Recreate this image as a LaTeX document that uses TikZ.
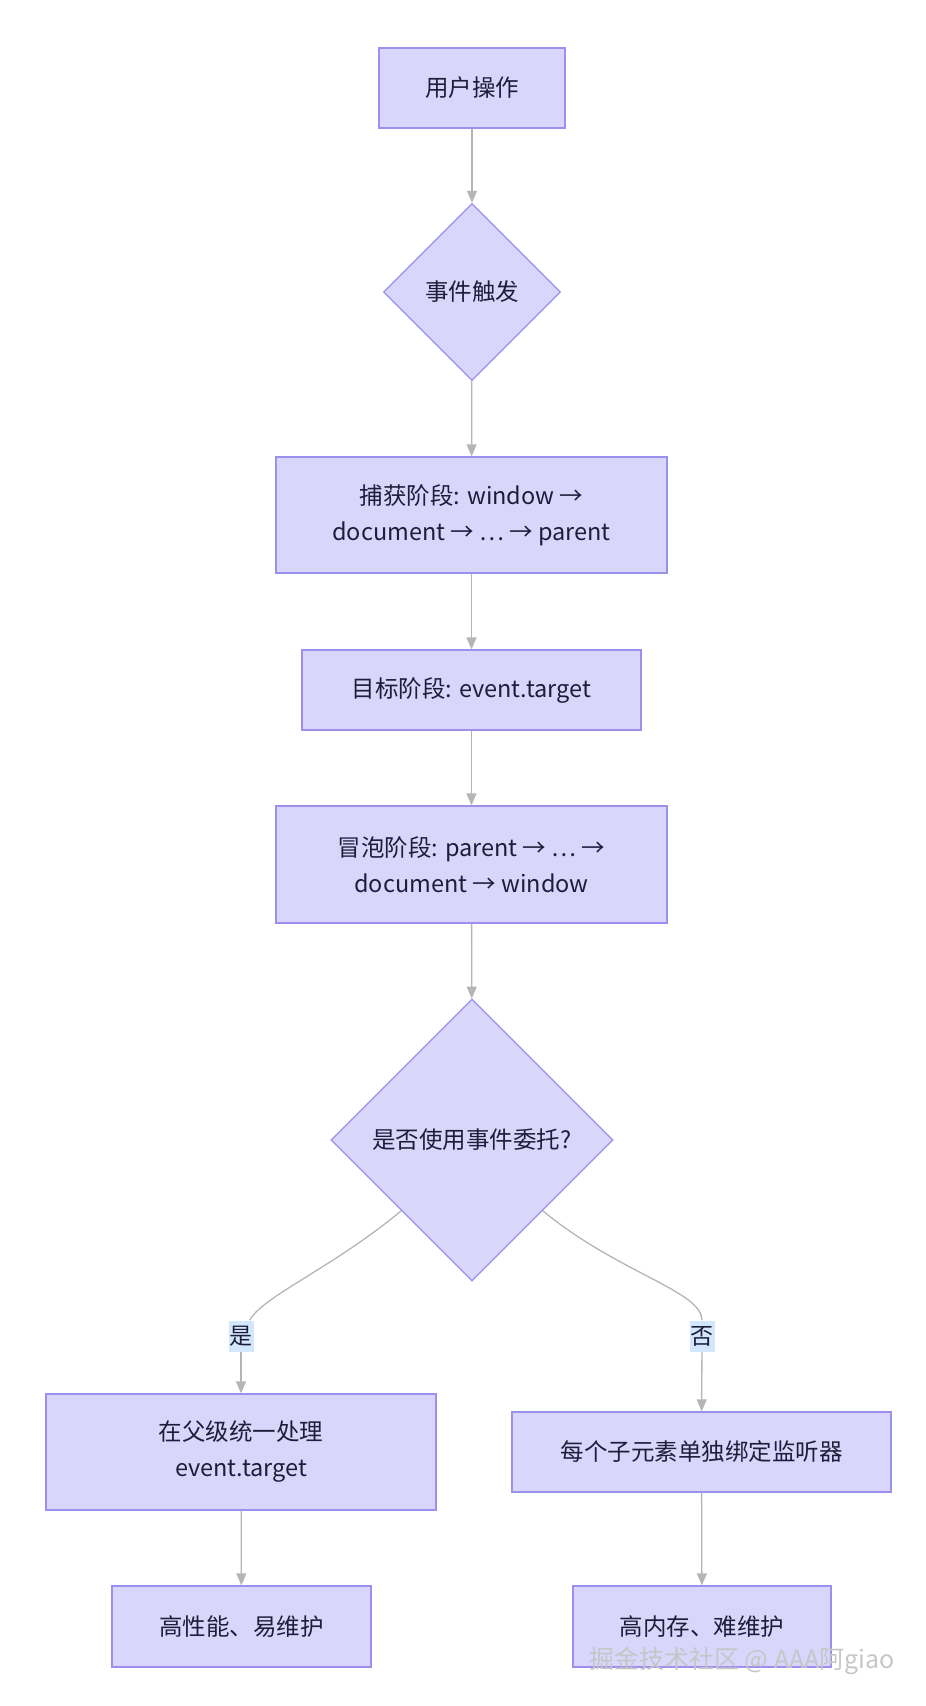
\documentclass[tikz,border=0pt]{standalone}
\usepackage{fontspec}
\setmainfont{Noto Sans CJK SC}
\usetikzlibrary{shapes.geometric,arrows.meta,positioning}
\definecolor{boxfill}{HTML}{D9D6FC}
\definecolor{boxline}{HTML}{9C8FEE}
\definecolor{edgegray}{HTML}{B5B5B5}
\definecolor{txt}{HTML}{1E1E3A}
\definecolor{lblfill}{HTML}{D2E6FC}

\begin{document}
\begin{tikzpicture}[x=1pt, y=-1pt,
  box/.style={rectangle, draw=boxline, line width=1.3pt, fill=boxfill, align=center, text=txt,
    font=\fontsize{23.5}{36}\selectfont, inner sep=0pt},
  choice/.style={diamond, draw=boxline, line width=1.3pt, fill=boxfill, align=center, text=txt,
    font=\fontsize{23.5}{36}\selectfont, inner sep=0pt, aspect=1},
  lbl/.style={rectangle, fill=lblfill, text=txt, font=\fontsize{23}{26}\selectfont, inner sep=1pt,
    minimum width=23, minimum height=31},
  arr/.style={-{Triangle[length=12pt, width=10pt]}, line width=1.3pt, edgegray},
  wire/.style={line width=1.3pt, edgegray}
]
  \useasboundingbox (0,0) rectangle (926,1706);

  \node[box, minimum width=186, minimum height=80] (user) at (472,88) {用户操作};
  \node[choice, minimum size=177] (fire) at (472,292) {事件触发};
  \node[box, minimum width=391, minimum height=116] (capture) at (471.5,515) {捕获阶段: window →\\document → … → parent};
  \node[box, minimum width=339, minimum height=80] (target) at (471.5,690) {目标阶段: event.target};
  \node[box, minimum width=391, minimum height=117] (bubble) at (471.5,864.5) {冒泡阶段: parent → … →\\document → window};
  \node[choice, minimum size=282] (delegate) at (472,1140) {是否使用事件委托?};

  \node[lbl] (yes) at (241,1336) {是};
  \node[lbl] (no) at (702,1336) {否};

  \node[box, minimum width=390, minimum height=116] (parent) at (241,1452) {在父级统一处理\\event.target};
  \node[box, minimum width=379, minimum height=80] (child) at (701.5,1452) {每个子元素单独绑定监听器};
  \node[box, minimum width=259, minimum height=81] (good) at (241.5,1626.5) {高性能、易维护};
  \node[box, minimum width=258, minimum height=81] (bad) at (702,1626.5) {高内存、难维护};

  \draw[arr] (user) -- (fire);
  \draw[arr] (fire) -- (capture);
  \draw[arr] (capture) -- (target);
  \draw[arr] (target) -- (bubble);
  \draw[arr] (bubble) -- (delegate);

  \draw[wire] (delegate.south west) .. controls +(-70,58) and +(22,-40) .. (yes);
  \draw[arr] (yes) -- (parent);
  \draw[wire] (delegate.south east) .. controls +(75,62) and +(0,-45) .. (no);
  \draw[arr] (no) -- (child);

  \draw[arr] (parent) -- (good);
  \draw[arr] (child) -- (bad);

  % watermark
  \node[text=gray!45, font=\fontsize{25}{28}\selectfont, inner sep=0pt] (mark) at (742,1661) {掘金技术社区 @ AAA阿giao};
\end{tikzpicture}
\end{document}
